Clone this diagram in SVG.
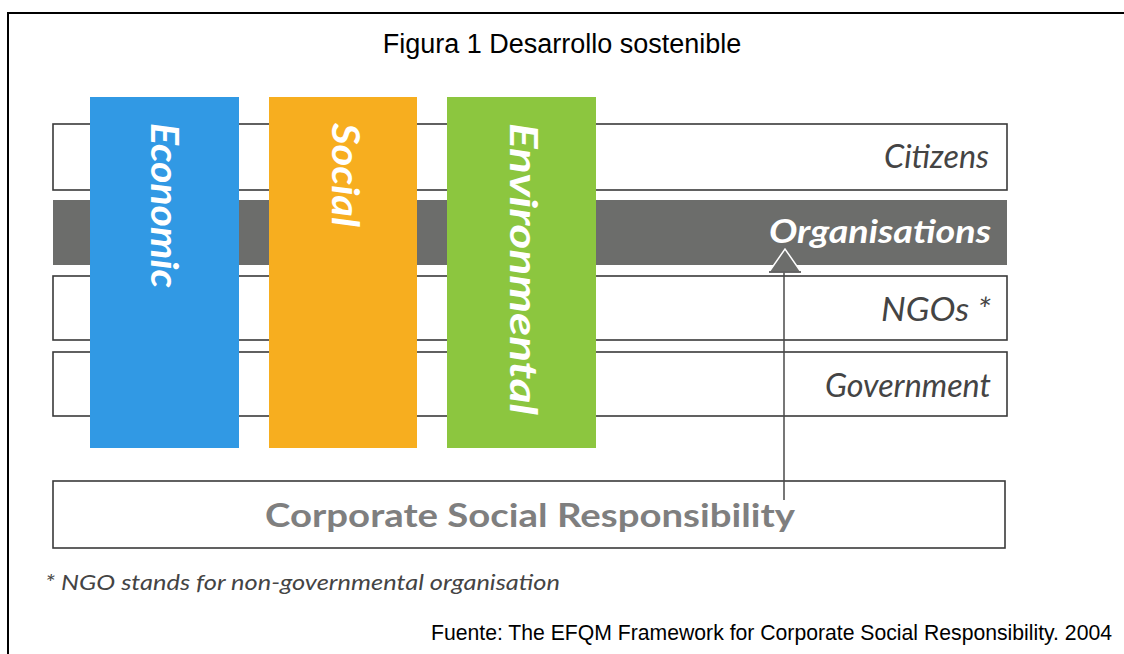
<svg xmlns="http://www.w3.org/2000/svg" width="1124" height="654" viewBox="0 0 1124 654">
  <style>
    .frame { fill: #ffffff; stroke: #000000; stroke-width: 2; }
    .row { fill: #ffffff; stroke: #3a3a3a; stroke-width: 1.6; }
    .rowlbl { font-family: Lato, "Open Sans", sans-serif; font-style: italic; font-size: 32px; fill: #444444; text-anchor: end; }
    .orglbl { font-family: Lato, "Open Sans", sans-serif; font-style: italic; font-weight: bold; font-size: 32px; fill: #ffffff; text-anchor: end; }
    .collbl { font-family: Lato, "Open Sans", sans-serif; font-style: italic; font-weight: bold; font-size: 38px; fill: #ffffff; }
    .plain { font-family: "Liberation Sans", Arial, sans-serif; fill: #000000; }
    .conn { stroke: #4a4a4a; stroke-width: 1.5; fill: none; }
  </style>

  <!-- page frame -->
  <rect class="frame" x="8" y="13" width="1130" height="660"/>

  <text class="plain" x="562" y="53" font-size="27" text-anchor="middle">Figura 1 Desarrollo sostenible</text>

  <!-- stakeholder rows -->
  <g id="citizens">
    <rect class="row" x="53" y="124" width="954" height="66"/>
    <text class="rowlbl" x="989" y="168" textLength="105" lengthAdjust="spacingAndGlyphs">Citizens</text>
  </g>
  <g id="organisations">
    <rect x="53" y="200" width="954" height="65" fill="#6c6d6b"/>
    <text class="orglbl" x="991" y="243" textLength="222" lengthAdjust="spacingAndGlyphs">Organisations</text>
  </g>
  <g id="ngos">
    <rect class="row" x="53" y="276" width="954" height="64"/>
    <text class="rowlbl" x="991" y="321" textLength="110" lengthAdjust="spacingAndGlyphs">NGOs *</text>
  </g>
  <g id="government">
    <rect class="row" x="53" y="352" width="954" height="64"/>
    <text class="rowlbl" x="991" y="397" textLength="166" lengthAdjust="spacingAndGlyphs">Government</text>
  </g>

  <!-- sustainability pillars -->
  <g id="economic">
    <rect x="90" y="97" width="149" height="351" fill="#3199e4"/>
    <text class="collbl" transform="translate(151,123) rotate(90)" textLength="165" lengthAdjust="spacingAndGlyphs">Economic</text>
  </g>
  <g id="social">
    <rect x="269" y="97" width="148" height="351" fill="#f7ae1f"/>
    <text class="collbl" transform="translate(332,123) rotate(90)" textLength="104" lengthAdjust="spacingAndGlyphs">Social</text>
  </g>
  <g id="environmental">
    <rect x="447" y="97" width="149" height="351" fill="#8cc63f"/>
    <text class="collbl" transform="translate(510,123) rotate(90)" textLength="292" lengthAdjust="spacingAndGlyphs">Environmental</text>
  </g>

  <!-- CSR base -->
  <g id="csr">
    <rect class="row" x="53" y="481" width="952" height="67"/>
    <text x="530" y="527" font-family="Lato, 'Open Sans', sans-serif" font-weight="bold" font-size="33" fill="#7f7f7f" text-anchor="middle" textLength="530" lengthAdjust="spacingAndGlyphs">Corporate Social Responsibility</text>
  </g>

  <!-- connector from CSR up to Organisations -->
  <g id="connectors">
    <line class="conn" x1="784" y1="500" x2="784" y2="272"/>
    <polygon points="769,272 801,272 785,249" fill="#6c6d6b" stroke="#ffffff" stroke-width="1.5"/>
    <line x1="769" y1="272" x2="801" y2="272" stroke="#3a3a3a" stroke-width="1.5"/>
  </g>

  <text x="45" y="590" font-family="Lato, 'Open Sans', sans-serif" font-style="italic" font-size="21" fill="#444444" textLength="515" lengthAdjust="spacingAndGlyphs">* NGO stands for non-governmental organisation</text>

  <text class="plain" x="1112" y="640" font-size="21.2" text-anchor="end">Fuente: The EFQM Framework for Corporate Social Responsibility. 2004</text>
</svg>
